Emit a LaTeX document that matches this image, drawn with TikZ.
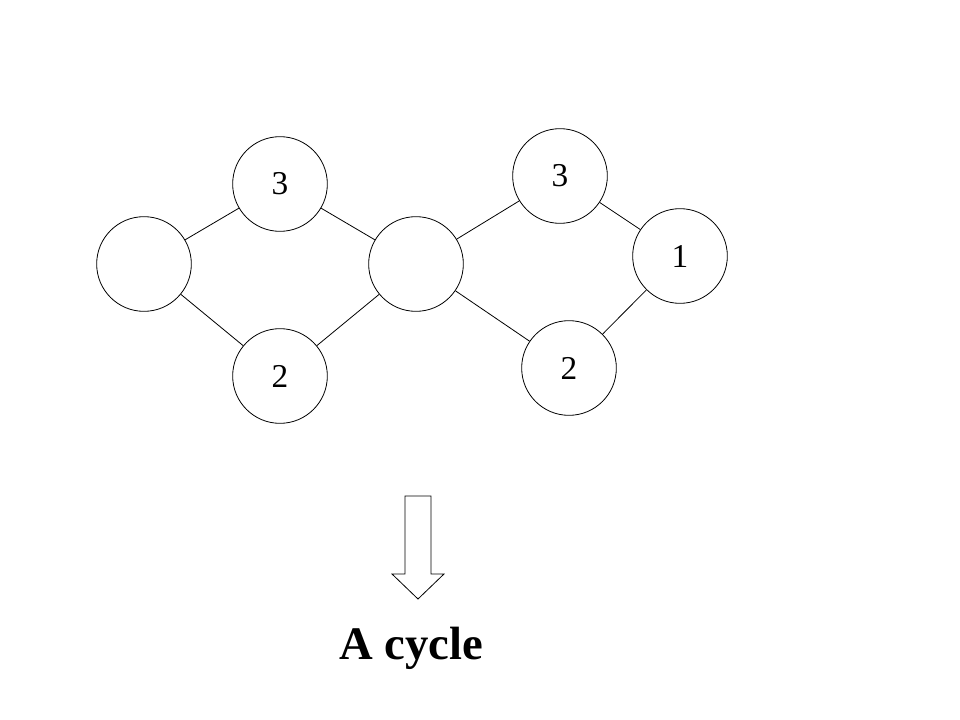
\documentclass[tikz,border=0pt]{standalone}
\usepackage{fontspec}
\setmainfont{Liberation Serif}
\begin{document}
\begin{tikzpicture}[x=0.75pt,y=-0.75pt,line width=0.6pt,
	vert/.style={draw,circle,minimum size=71pt,inner sep=0pt,font=\fontsize{25}{25}\selectfont}]
		\useasboundingbox (0,0) rectangle (960,720);
		\node[vert](l)at(144,264){};
		\node[vert](t1)at(280,184){3};
		\node[vert](b1)at(280,376){2};
		\node[vert](m)at(416,264){};
		\node[vert](t2)at(560,176){3};
		\node[vert](r)at(680,256){1};
		\node[vert](b2)at(569,368){2};
		\draw(l)--(t1);
		\draw(t1)--(m);
		\draw(l)--(b1);
		\draw(b1)--(m);
		\draw(m)--(t2);
		\draw(m)--(b2);
		\draw(t2)--(r);
		\draw(r)--(b2);
		\draw(405,496)--(431,496)--(431,574)--(444,574)--(418,599)--(392,574)--(405,574)--cycle;
		\node[anchor=base,font=\fontsize{35}{40}\selectfont\bfseries](cap)at(411,659){A cycle};
		\end{tikzpicture}
\end{document}
